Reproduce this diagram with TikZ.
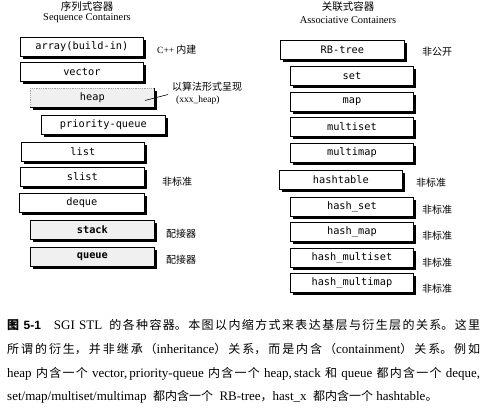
\documentclass[tikz,border=0pt]{standalone}
\usepackage{fontspec}
\setmainfont{Liberation Serif}
\newfontfamily\cjk{Noto Sans CJK SC}
\newfontfamily\mono{DejaVu Sans Mono}
\newfontfamily\hv{Liberation Sans}
\usetikzlibrary{shadows}
\XeTeXlinebreaklocale "zh"
\XeTeXlinebreakskip=0pt plus 2pt
\hbadness=10000
\newcommand\zh[1]{{\cjk\fontsize{12}{14}\selectfont #1}}
% one fully justified caption line
\newcommand\capl[1]{\parbox[b]{473pt}{\parfillskip=0pt\relax #1}}

\tikzset{
  cbox/.style={draw=black, line width=0.8pt, fill=white, inner sep=0pt,
    minimum width=123pt, minimum height=19pt, anchor=north west,
    font=\mono\fontsize{10.3}{12}\selectfont,
    drop shadow={shadow xshift=2.6pt, shadow yshift=-2.6pt, fill=black, opacity=1}},
  graybox/.style={cbox, fill=gray!12},
  note/.style={anchor=west, inner sep=0pt, font=\cjk\fontsize{10}{12}\selectfont},
  head/.style={inner sep=0pt, font=\cjk\fontsize{10.5}{12}\selectfont},
  subhead/.style={inner sep=0pt, font=\fontsize{10.4}{12}\selectfont},
  capline/.style={anchor=base west, inner sep=0pt, font=\fontsize{13}{15}\selectfont},
}

\begin{document}
\begin{tikzpicture}[x=1pt, y=-1pt]
\useasboundingbox (0,0) rectangle (493,413);

% column headings
\node[head] (seqzh) at (87,6) {序列式容器};
\node[subhead] (seqen) at (87,18) {Sequence Containers};
\node[head] (asszh) at (348,7) {关联式容器};
\node[subhead] (assen) at (348,20) {Associative Containers};

% sequence containers
\node[cbox] (array) at (20,37) {array(build-in)};
\node[cbox] (vector) at (20,62) {vector};
\node[graybox, draw=gray!70, densely dotted, minimum width=124pt] (heap) at (30,88) {heap};
\node[cbox, minimum width=124pt] (pq) at (41,115) {priority-queue};
\node[cbox] (list) at (21,142) {list};
\node[cbox, minimum width=124pt] (slist) at (20,167) {slist};
\node[cbox, minimum width=125pt] (deque) at (19,193) {deque};
\node[graybox, minimum width=124pt, font=\mono\bfseries\fontsize{10.3}{12}\selectfont] (stack) at (30,220) {stack};
\node[graybox, minimum width=124pt, font=\mono\bfseries\fontsize{10.3}{12}\selectfont] (queue) at (30,247) {queue};

% solid right/bottom edges of the heap box
\draw[line width=0.8pt] (heap.north east) -- (heap.south east) -- (heap.south west);

% associative containers
\node[cbox, minimum width=124pt] (rbtree) at (280,40) {RB-tree};
\node[cbox] (set) at (290,66) {set};
\node[cbox] (map) at (290,92) {map};
\node[cbox] (multiset) at (290,117) {multiset};
\node[cbox] (multimap) at (290,143) {multimap};
\node[cbox] (hashtable) at (279,170) {hashtable};
\node[cbox] (hashset) at (290,197) {hash\_set};
\node[cbox] (hashmap) at (290,222) {hash\_map};
\node[cbox] (hashmultiset) at (290,248) {hash\_multiset};
\node[cbox] (hashmultimap) at (290,273) {hash\_multimap};

% remarks beside the boxes
\node[note] (builtin) at (157,50) {{\rmfamily\fontsize{9.5}{11}\selectfont C++} 内建};
\node[note] (alg) at (172,87) {以算法形式呈现};
\node[note, font=\fontsize{9.5}{11}\selectfont] (xxxheap) at (176,100) {(xxx\_heap)};
\coordinate (heapin) at (145,100.5);
\coordinate (heapout) at (168,94.5);
\draw[line width=0.6pt] (heapin) -- (heapout);
\node[note] (nsslist) at (162,182) {非标准};
\node[note] (adstack) at (166,234) {配接器};
\node[note] (adqueue) at (166,260) {配接器};

\node[note] (hidden) at (422,52) {非公开};
\node[note] (nshash) at (416,183) {非标准};
\node[note] (nshset) at (422,210) {非标准};
\node[note] (nshmap) at (422,236) {非标准};
\node[note] (nshmset) at (422,263) {非标准};
\node[note] (nshmmap) at (422,289) {非标准};

% caption
\node[capline] (cap1) at (7,329.5) {\capl{\zh{\bfseries 图} {\hv\bfseries\fontsize{12}{14}\selectfont 5-1}\hspace{13pt}SGI STL\hspace{7pt}\zh{的各种容器。本图以内缩方式来表达基层与衍生层的关系。这里}}};
\node[capline] (cap2) at (7,353.5) {\capl{\zh{所谓的衍生，并非继承（}inheritance\zh{）关系，而是内含（}containment\zh{）关系。例如}}};
\node[capline] (cap3) at (7,377.5) {\capl{heap \zh{内含一个} vector,\,priority-queue \zh{内含一个} heap,\,stack \zh{和} queue \zh{都内含一个} deque,}};
\node[capline] (cap4) at (7,400.5) {set/map/multiset/multimap \ \zh{都内含一个} \ RB-tree\zh{，}hast\_x \ \zh{都内含一个} hashtable\zh{。}};
\end{tikzpicture}
\end{document}
